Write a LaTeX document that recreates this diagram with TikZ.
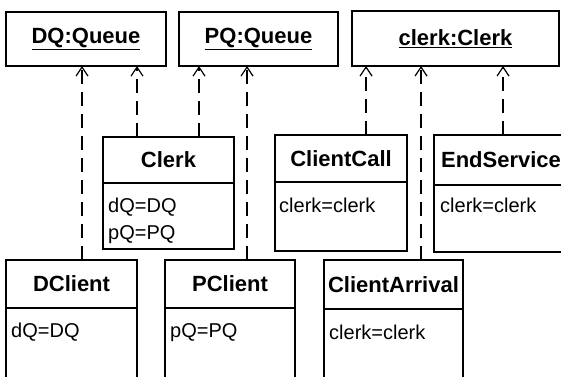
\documentclass[tikz,border=0pt]{standalone}
\usepackage{fontspec}
\setmainfont{Liberation Sans}
\usetikzlibrary{arrows.meta}

\tikzset{
  objbox/.style={draw, line width=1.8pt, anchor=north west, inner sep=0pt, outer sep=0pt},
  qtitle/.style={font=\fontsize{22}{26}\selectfont\bfseries},
  ctitle/.style={font=\fontsize{22}{26}\selectfont\bfseries, inner sep=0pt},
  attrs/.style={anchor=base west, align=left, inner sep=0pt, font=\fontsize{20}{27}\selectfont},
  sepline/.style={line width=1.4pt},
  dep/.style={line width=1.2pt, dash pattern=on 14pt off 8pt,
    -{Straight Barb[length=9pt,width=12pt,line width=1.2pt]}}
}

\begin{document}
\begin{tikzpicture}[x=1pt,y=-1pt]
  \useasboundingbox (0,0) rectangle (561,376);
  \clip (0,0) rectangle (561,376);

  % objects
  \node[objbox, qtitle, minimum width=160pt, minimum height=54pt] (dq) at (6,12) {\underline{DQ:Queue}};
  \node[objbox, qtitle, minimum width=159pt, minimum height=54pt] (pq) at (179,12) {\underline{PQ:Queue}};
  \node[objbox, qtitle, minimum width=207pt, minimum height=55pt] (clerkobj) at (352,11) {\underline{clerk:Clerk}};

  % classes, upper row
  \node[objbox, minimum width=131pt, minimum height=112pt] (clerk) at (103,137) {};
  \node[ctitle] (clerkT) at (168.5,160) {Clerk};
  \draw[sepline] (clerk.west |- 0,183) -- (clerk.east |- 0,183);
  \node[attrs] (clerkA) at (108,239) {dQ=DQ\\pQ=PQ};

  \node[objbox, minimum width=132pt, minimum height=116pt] (call) at (275,135) {};
  \node[ctitle] (callT) at (341,158.5) {ClientCall};
  \draw[sepline] (call.west |- 0,182) -- (call.east |- 0,182);
  \node[attrs] (callA) at (279,212) {clerk=clerk};

  \node[objbox, minimum width=134pt, minimum height=117pt] (endsvc) at (434,135) {};
  \node[ctitle] (endsvcT) at (501,160) {EndService};
  \draw[sepline] (endsvc.west |- 0,185) -- (endsvc.east |- 0,185);
  \node[attrs] (endsvcA) at (440,212) {clerk=clerk};

  % classes, lower row
  \node[objbox, minimum width=131pt, minimum height=140pt] (dclient) at (6,260) {};
  \node[ctitle] (dclientT) at (71.5,284) {DClient};
  \draw[sepline] (dclient.west |- 0,308) -- (dclient.east |- 0,308);
  \node[attrs] (dclientA) at (11,337) {dQ=DQ};

  \node[objbox, minimum width=130pt, minimum height=140pt] (pclient) at (165,260) {};
  \node[ctitle] (pclientT) at (230,284) {PClient};
  \draw[sepline] (pclient.west |- 0,308) -- (pclient.east |- 0,308);
  \node[attrs] (pclientA) at (170,337) {pQ=PQ};

  \node[objbox, minimum width=139pt, minimum height=140pt] (arrival) at (324,260) {};
  \node[ctitle] (arrivalT) at (393.5,284.5) {ClientArrival};
  \draw[sepline] (arrival.west |- 0,309) -- (arrival.east |- 0,309);
  \node[attrs] (arrivalA) at (329,339) {clerk=clerk};

  % dependencies
  \draw[dep] (dclient.north -| 82,0) -- (dq.south -| 82,0);
  \draw[dep] (clerk.north -| 137,0) -- (dq.south -| 137,0);
  \draw[dep] (clerk.north -| 199,0) -- (pq.south -| 199,0);
  \draw[dep] (pclient.north -| 247,0) -- (pq.south -| 247,0);
  \draw[dep] (call.north -| 366,0) -- (clerkobj.south -| 366,0);
  \draw[dep, line width=2pt] (arrival.north -| 421,0) -- (clerkobj.south -| 421,0);
  \draw[dep] (endsvc.north -| 503,0) -- (clerkobj.south -| 503,0);
\end{tikzpicture}
\end{document}
